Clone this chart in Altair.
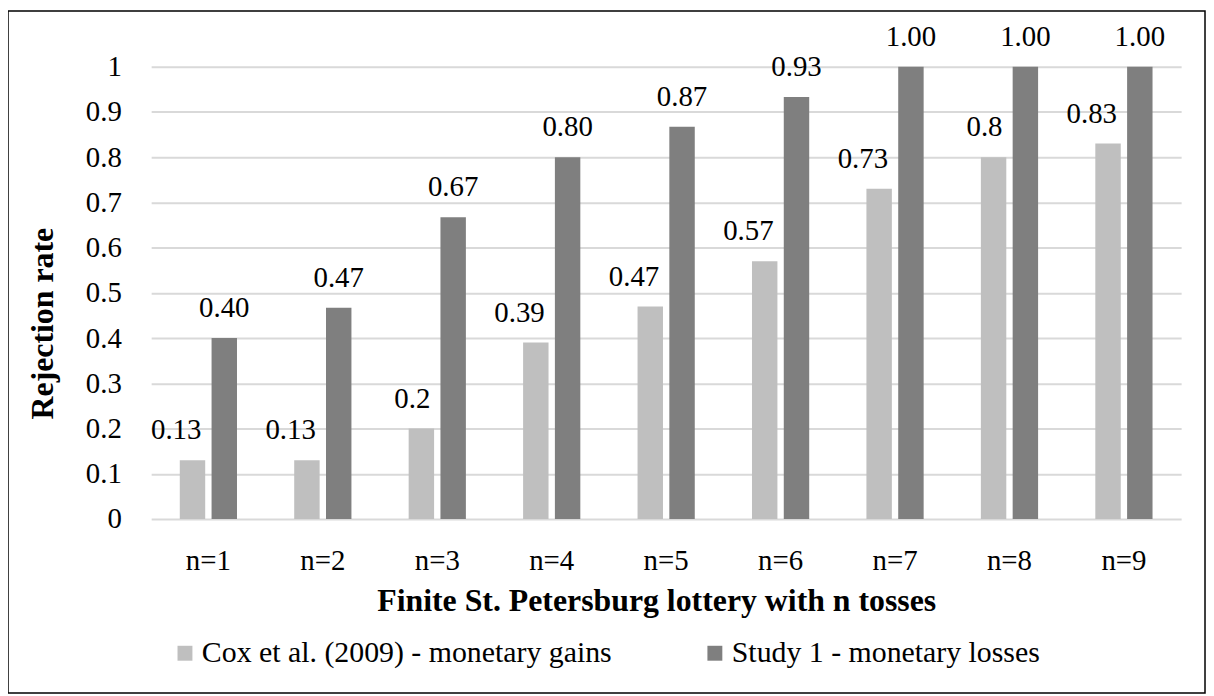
import altair as alt
import pandas as pd

# ---- data ----
categories = ["n=1", "n=2", "n=3", "n=4", "n=5", "n=6", "n=7", "n=8", "n=9"]
series_names = ["Cox et al. (2009) - monetary gains", "Study 1 - monetary losses"]
cox_gains = [0.13, 0.13, 0.20, 0.39, 0.47, 0.57, 0.73, 0.80, 0.83]
study1_losses = [0.40, 0.467, 0.667, 0.80, 0.867, 0.933, 1.00, 1.00, 1.00]
y_ticks = [0, 0.1, 0.2, 0.3, 0.4, 0.5, 0.6, 0.7, 0.8, 0.9, 1.0]
bar_colors = ["#bfbfbf", "#7f7f7f"]

rows = []
for i, c in enumerate(categories):
    rows.append({"cat": c, "series": series_names[0], "value": cox_gains[i]})
    rows.append({"cat": c, "series": series_names[1], "value": study1_losses[i]})
df = pd.DataFrame(rows)

FONT = "Liberation Serif"
W, H = 1036, 455

x_enc = alt.X(
    "cat:N",
    sort=categories,
    scale=alt.Scale(paddingInner=0.5, paddingOuter=0.25),
    axis=alt.Axis(
        title="Finite St. Petersburg lottery with n tosses",
        labelFont=FONT, labelFontSize=29, labelColor="black",
        labelPadding=28, labelAngle=0,
        ticks=False, tickSize=0, domain=False, grid=False,
        titleFont=FONT, titleFontSize=32, titleFontWeight="bold",
        titleColor="black", titleX=508, titleY=92,
        titleBaseline="alphabetic", titleAlign="center",
    ),
)
xoff = alt.XOffset(
    "series:N",
    sort=series_names,
    scale=alt.Scale(domain=series_names, paddingInner=0.2, paddingOuter=0),
)
y_enc = alt.Y(
    "value:Q",
    scale=alt.Scale(domain=[0, 1], nice=False, zero=True),
    axis=alt.Axis(
        values=y_ticks, format=".1~f",
        title="Rejection rate",
        labelFont=FONT, labelFontSize=29, labelColor="black",
        labelPadding=30, ticks=False, tickSize=0, domain=False,
        grid=True, gridColor="#d9d9d9", gridWidth=2,
        titleFont=FONT, titleFontSize=32, titleFontWeight="bold",
        titleColor="black", titleAngle=270, titleX=-99, titleY=258,
        titleAlign="center", titleBaseline="alphabetic",
    ),
)

bars = alt.Chart(df).mark_bar().encode(
    x=x_enc,
    xOffset=xoff,
    y=y_enc,
    color=alt.Color(
        "series:N",
        scale=alt.Scale(domain=series_names, range=bar_colors),
        legend=alt.Legend(
            title=None, orient="none", legendX=19, legendY=575,
            direction="horizontal", symbolType="square", symbolSize=225,
            symbolStrokeWidth=0, labelFont=FONT, labelFontSize=30,
            labelColor="black", labelOffset=2, columnPadding=88,
            labelLimit=1000, padding=0,
        ),
    ),
)

lab_light = (
    alt.Chart(df)
    .transform_filter(alt.datum.series == series_names[0])
    .transform_calculate(lbl="format(datum.value, '.2~f')")
    .mark_text(align="right", dx=9, dy=-21, baseline="alphabetic",
               font=FONT, fontSize=29, color="black")
    .encode(x=x_enc, xOffset=xoff, y=y_enc, text="lbl:N")
)

lab_dark = (
    alt.Chart(df)
    .transform_filter(alt.datum.series == series_names[1])
    .transform_calculate(lbl="format(datum.value, '.2f')")
    .mark_text(align="center", dy=-21, baseline="alphabetic",
               font=FONT, fontSize=29, color="black")
    .encode(x=x_enc, xOffset=xoff, y=y_enc, text="lbl:N")
)

frame = (
    alt.Chart(pd.DataFrame({"k": [0]}))
    .mark_rect(fill="transparent", stroke="black", strokeWidth=1.5)
    .encode(x=alt.value(-144), x2=alt.value(1060), y=alt.value(-56), y2=alt.value(630))
)

chart = (
    alt.layer(frame, bars, lab_light, lab_dark)
    .properties(
        width=W, height=H,
        autosize=alt.AutoSizeParams(type="none"),
        padding={"left": 144, "top": 57, "right": 25, "bottom": 176},
        background="white",
    )
    .configure_view(strokeWidth=0)
)

chart.save("out.html", embed_options={"renderer": "svg", "actions": False})
